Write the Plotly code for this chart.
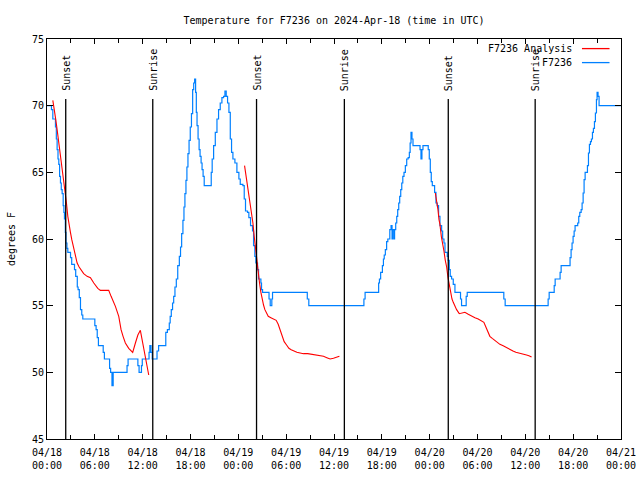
import plotly.graph_objects as go
import pandas as pd

START = pd.Timestamp("2024-04-18 00:00")

# Station observations (hours since 2024-04-18 00:00 UTC, degrees F)
obs_hours = [0.00, 0.56, 0.73, 1.06, 1.17, 1.27, 1.38, 1.48, 1.58, 1.69, 1.79, 1.90, 2.03, 2.12, 2.19,
             2.30, 2.38, 2.50, 2.61, 2.95, 3.10, 3.45, 3.60, 3.80, 3.90, 4.05, 4.20, 4.36, 4.49, 6.00,
             6.16, 6.30, 6.45, 7.05, 7.20, 7.85, 7.98, 8.15, 8.30, 10.04, 10.17, 11.40, 11.55, 11.85,
             11.95, 12.80, 12.90, 13.05, 13.20, 13.80, 14.00, 14.90, 15.10, 15.34, 15.45, 15.59, 15.75,
             15.89, 16.05, 16.22, 16.40, 16.60, 16.75, 16.89, 17.05, 17.18, 17.30, 17.43, 17.55, 17.68,
             17.82, 17.97, 18.12, 18.27, 18.40, 18.52, 18.64, 18.73, 18.82, 18.95, 19.08, 19.20, 19.33,
             19.45, 19.58, 19.72, 20.60, 20.72, 20.90, 21.11, 21.32, 21.52, 21.73, 21.94, 22.15, 22.32,
             22.48, 22.65, 22.82, 22.99, 23.15, 23.32, 23.57, 23.82, 24.07, 24.24, 24.57, 24.74, 24.90,
             25.15, 25.32, 25.53, 25.78, 25.91, 26.07, 26.20, 26.41, 26.54, 26.83, 26.91, 27.04, 27.85,
             28.00, 28.20, 28.29, 32.65, 32.84, 39.75, 39.90, 41.60, 41.70, 41.85, 42.07, 42.20, 42.30,
             42.44, 42.60, 42.75, 43.00, 43.16, 43.28, 43.33, 43.49, 43.60, 43.74, 43.87, 43.99, 44.12,
             44.24, 44.37, 44.50, 44.63, 44.78, 44.95, 45.12, 45.30, 45.45, 45.55, 45.66, 45.78, 45.91,
             46.79, 46.91, 47.03, 47.16, 47.82, 47.95, 48.08, 48.20, 48.33, 48.62, 48.79, 48.95, 49.12,
             49.29, 49.50, 49.63, 49.79, 49.92, 50.21, 50.33, 50.46, 50.58, 50.75, 50.96, 51.17, 51.87,
             52.00, 52.58, 52.71, 57.30, 57.47, 62.86, 62.99, 63.62, 63.74, 64.36, 64.49, 65.61, 65.74,
             65.86, 65.99, 66.12, 66.24, 66.57, 66.70, 66.83, 67.00, 67.12, 67.25, 67.37, 67.50, 67.79,
             67.92, 68.04, 68.17, 68.29, 68.42, 68.54, 68.67, 68.79, 68.92, 69.00, 69.12, 69.25, 72.00]
obs_temp = [70.0, 69.7, 69.0, 68.4, 67.5, 66.7, 66.0, 65.6, 64.7, 64.2, 63.7, 63.4, 62.5, 62.0, 61.5,
            60.5, 59.7, 59.3, 59.0, 58.6, 58.1, 57.7, 57.2, 56.4, 56.2, 55.6, 54.7, 54.3, 54.0, 53.5,
            53.2, 52.6, 52.0, 51.5, 51.0, 50.3, 50.0, 49.0, 50.0, 50.5, 51.0, 50.5, 50.0, 50.5,
            51.0, 51.5, 52.0, 51.5, 51.0, 51.6, 52.0, 53.0, 53.2, 53.7, 54.2, 54.7, 55.2,
            55.7, 56.4, 57.0, 58.0, 58.7, 59.4, 60.4, 61.4, 62.4, 63.4, 64.4, 65.4, 66.4,
            67.4, 68.4, 69.4, 71.2, 71.7, 72.0, 71.0, 69.5, 68.5, 67.5, 66.7, 66.2, 65.7,
            65.2, 64.7, 64.0, 65.0, 66.0, 67.0, 68.0, 69.0, 69.7, 70.2, 70.6, 70.7, 71.1,
            70.7, 70.2, 69.5, 67.5, 66.5, 66.0, 65.7, 65.0, 64.5, 64.1, 64.0, 63.0, 62.1,
            62.0, 61.6, 61.0, 60.6, 59.5, 58.7, 58.2, 57.7, 57.0, 56.7, 56.2, 56.0, 55.5,
            55.0, 55.5, 56.0, 55.5, 55.0, 55.5, 56.0, 56.7, 57.0, 57.5, 58.0, 58.5, 58.8,
            59.2, 59.8, 60.0, 60.7, 61.0, 60.0, 60.7, 60.0, 60.7, 61.2, 61.7, 62.2, 62.7,
            63.2, 63.7, 64.2, 64.7, 65.0, 65.5, 66.0, 66.1, 66.5, 67.2, 68.0, 67.5, 67.0,
            66.7, 66.0, 66.7, 67.0, 66.7, 66.0, 65.0, 64.3, 64.0, 63.5, 62.7, 62.5, 61.7,
            61.0, 60.6, 60.0, 59.7, 59.0, 58.7, 58.4, 57.7, 57.2, 57.0, 56.6, 56.0, 55.5,
            55.0, 55.7, 56.0, 55.5, 55.0, 55.5, 56.0, 56.5, 57.0, 57.5, 58.0, 58.6, 59.2,
            59.7, 60.2, 60.6, 61.0, 61.2, 61.7, 62.0, 62.2, 62.7, 63.45, 64.45, 65.0, 65.5,
            66.45, 67.1, 67.3, 67.5, 68.0, 68.3, 68.8, 69.45, 70.45, 71.0, 70.7, 70.0, 70.0]

# Analysis segments
ana1_hours = [0.73, 0.94, 1.10, 1.27, 1.44, 1.61, 1.78, 1.94, 2.11, 2.28, 2.44, 2.61, 2.78, 2.94, 3.11,
              3.28, 3.44, 3.61, 3.78, 4.03, 4.28, 4.60, 5.03, 5.45, 5.87, 6.37, 6.70, 7.74, 8.04, 8.58,
              9.00, 9.29, 9.54, 9.83, 10.25, 10.75, 11.09, 11.40, 11.71, 12.13, 12.55, 12.76]
ana1_temp = [70.4, 69.7, 68.95, 68.2, 67.45, 66.7, 65.95, 65.2, 64.2, 63.45, 62.7, 61.7, 60.95, 60.5, 59.95,
             59.5, 59.0, 58.45, 58.2, 57.9, 57.7, 57.4, 57.2, 57.1, 56.7, 56.3, 56.15, 56.15, 55.7, 54.95,
             54.2, 53.2, 52.7, 52.2, 51.8, 51.5, 52.2, 52.8, 53.15, 51.7, 50.5, 49.8]
ana2_hours = [24.78, 24.99, 25.16, 25.33, 25.49, 25.66, 25.83, 25.99, 26.16, 26.33, 26.49, 26.66, 26.83,
              26.99, 27.16, 27.33, 27.50, 27.75, 28.08, 28.41, 28.75, 29.00, 29.25, 29.50, 29.75, 30.05,
              30.34, 30.63, 30.92, 31.34, 31.75, 32.17, 32.70, 33.22, 33.95, 34.68, 35.10, 35.51, 35.93,
              36.35, 36.68]
ana2_temp = [65.5, 64.7, 63.95, 63.2, 62.6, 61.9, 61.2, 60.2, 59.2, 58.2, 57.45, 56.7, 56.0,
             55.45, 55.05, 54.7, 54.45, 54.2, 54.1, 54.0, 53.9, 53.6, 53.1, 52.7, 52.3, 52.05,
             51.8, 51.7, 51.6, 51.5, 51.45, 51.4, 51.4, 51.35, 51.3, 51.2, 51.1, 51.0, 51.05,
             51.15, 51.2]
ana3_hours = [48.71, 48.87, 49.04, 49.17, 49.29, 49.46, 49.63, 49.79, 49.96, 50.13, 50.30, 50.46, 50.63,
              50.80, 50.96, 51.17, 51.38, 51.71, 52.06, 52.42, 52.84, 53.26, 53.68, 54.09, 54.50, 54.80,
              55.05, 55.30, 55.55, 55.85, 56.14, 56.48, 56.81, 57.22, 57.64, 58.06, 58.45, 58.81, 59.27,
              59.73, 60.15, 60.45, 60.78]
ana3_temp = [63.45, 62.95, 62.2, 61.45, 61.1, 60.2, 59.7, 59.1, 58.4, 57.9, 57.1, 56.5, 56.0,
             55.5, 55.25, 54.95, 54.7, 54.4, 54.45, 54.5, 54.35, 54.2, 54.1, 54.0, 53.85, 53.75,
             53.4, 53.1, 52.7, 52.55, 52.4, 52.25, 52.1, 52.0, 51.85, 51.75, 51.6, 51.5, 51.45,
             51.4, 51.3, 51.25, 51.15]

sun_times = ["2024-04-18 02:21", "2024-04-18 13:16", "2024-04-19 02:17",
             "2024-04-19 13:18", "2024-04-20 02:20", "2024-04-20 13:14"]
sun_labels = ["Sunset", "Sunrise", "Sunset", "Sunrise", "Sunset", "Sunrise"]

x_range = ["2024-04-18 00:00", "2024-04-21 00:00"]
y_range = [45, 75]

title = "Temperature for F7236 on 2024-Apr-18 (time in UTC)"
y_title = "degrees F"
legend_names = ["F7236 Analysis", "F7236"]

RED = "#ff0000"
BLUE = "#0080ff"
FONT = "DejaVu Sans Mono"


def to_time(hours):
    return [START + pd.Timedelta(hours=h) for h in hours]


ana_x, ana_y = [], []
for hh, tt in [(ana1_hours, ana1_temp), (ana2_hours, ana2_temp), (ana3_hours, ana3_temp)]:
    ana_x += to_time(hh) + [None]
    ana_y += tt + [None]

fig = go.Figure()
fig.add_trace(go.Scatter(x=to_time(obs_hours), y=obs_temp, mode="lines", name=legend_names[1],
                         line=dict(color=BLUE, width=1.2, shape="hv"), showlegend=False))
fig.add_trace(go.Scatter(x=ana_x, y=ana_y, mode="lines", name=legend_names[0],
                         line=dict(color=RED, width=1.1), connectgaps=False, showlegend=False))

for t, lab in zip(sun_times, sun_labels):
    fig.add_shape(type="line", xref="x", yref="y", x0=t, x1=t, y0=y_range[0], y1=70.5,
                  line=dict(color="black", width=1.3), layer="above")
    fig.add_annotation(x=t, y=70.95, xref="x", yref="y", text=lab, textangle=-90,
                       showarrow=False, xanchor="center", yanchor="bottom",
                       font=dict(family=FONT, size=10, color="black"))

# legend (text left, sample line right, as in the reference)
leg_rows = [(0.976, RED), (0.941, BLUE)]
for (yy, col), name in zip(leg_rows, legend_names):
    fig.add_annotation(x=0.918, y=yy, xref="paper", yref="paper", text=name, showarrow=False,
                       xanchor="right", yanchor="middle", font=dict(family=FONT, size=10, color="black"))
    fig.add_shape(type="line", xref="paper", yref="paper", x0=0.932, x1=0.980, y0=yy, y1=yy,
                  line=dict(color=col, width=1.3))

fig.update_layout(
    width=640, height=480,
    margin=dict(l=47, r=19, t=39, b=41, autoexpand=False),
    paper_bgcolor="white", plot_bgcolor="white",
    font=dict(family=FONT, size=10, color="black"),
    title=dict(text=title, x=0.5, xref="paper", y=0.958, yanchor="middle",
               font=dict(family=FONT, size=10, color="black")),
    showlegend=False,
)
fig.update_xaxes(type="date", range=x_range, tickformat="%m/%d<br>%H:%M",
                 dtick=6 * 3600 * 1000, tick0="2024-04-18 00:00", automargin=False,
                 ticks="inside", ticklen=5, tickcolor="black", showline=True, linecolor="black",
                 linewidth=1, mirror="ticks", showgrid=False, zeroline=False, ticklabelstandoff=4,
                 minor=dict(dtick=3 * 3600 * 1000, ticks="inside", ticklen=4, tickcolor="black", showgrid=False),
                 tickfont=dict(family=FONT, size=10, color="black"))
fig.update_yaxes(range=y_range, dtick=5, ticks="inside", ticklen=6, tickcolor="black", automargin=False,
                 showline=True, linecolor="black", linewidth=1, mirror="ticks", showgrid=False,
                 zeroline=False, tickfont=dict(family=FONT, size=10, color="black"),
                 title=dict(text=y_title, standoff=14, font=dict(family=FONT, size=10, color="black")))

fig.write_html("out.html", config={"displayModeBar": False},
               post_script="document.body.style.margin='0px';")
